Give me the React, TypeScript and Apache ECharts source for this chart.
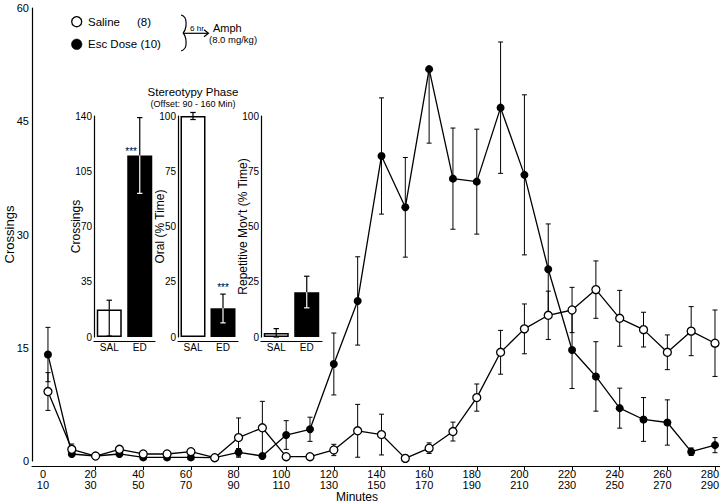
import React, { useEffect, useRef } from "react";
import * as echarts from "echarts";

// Main time course: one point per 10-min bin (index 0..28)
const binIndex = [0, 1, 2, 3, 4, 5, 6, 7, 8, 9, 10, 11, 12, 13, 14, 15, 16, 17, 18, 19, 20, 21, 22, 23, 24, 25, 26, 27, 28];
const xTickPositions = [0, 2, 4, 6, 8, 10, 12, 14, 16, 18, 20, 22, 24, 26, 28];
const xTickMarks = [2, 4, 6, 8, 10, 12, 14, 16, 18, 20, 22, 24, 26, 28];
const xTickLabels = ["0\n10", "20\n30", "40\n50", "60\n70", "80\n90", "100\n110", "120\n130", "140\n150", "160\n170", "180\n190", "200\n210", "220\n230", "240\n250", "260\n270", "280\n290"];
const yTicks = [0, 15, 30, 45, 60];

const salineMean = [9.2, 1.55, 0.66, 1.55, 0.93, 0.93, 1.23, 0.44, 3.1, 4.4, 0.57, 0.57, 1.46, 4.0, 3.5, 0.35, 1.7, 3.9, 8.4, 14.4, 17.5, 19.3, 20.0, 22.7, 18.9, 17.4, 14.4, 17.2, 15.6];
const salineSem = [2.5, 0.7, 0.2, 0.3, 0.2, 0.2, 0.3, 0.1, 2.6, 3.5, 0.1, 0.1, 0.75, 3.5, 2.7, 0.1, 0.7, 1.25, 1.8, 2.9, 3.3, 3.2, 3.0, 3.8, 3.7, 2.3, 2.3, 3.25, 4.4];

const escMean = [14.1, 0.93, 0.66, 0.93, 0.48, 0.48, 0.48, 0.44, 1.15, 0.66, 3.44, 4.2, 12.85, 21.2, 40.4, 33.6, 51.9, 37.4, 37.0, 46.8, 37.9, 25.4, 14.7, 11.2, 7.0, 5.5, 5.1, 1.23, 2.1];
const escSemLower = [3.6, 0.3, 0.2, 0.3, 0.1, 0.1, 0.1, 0.1, 0.5, 0.1, 1.9, 1.6, 4.1, 5.85, 7.7, 6.6, 9.8, 6.7, 6.95, 8.7, 10.6, 6.0, 5.1, 4.6, 2.65, 2.9, 3.0, 0.5, 1.0];
const escSemUpper = [3.6, 0.3, 0.2, 0.3, 0.1, 0.1, 0.1, 0.1, 0.5, 0.1, 1.9, 1.6, 4.1, 5.85, 7.7, 6.6, 0, 6.7, 6.95, 8.7, 10.6, 6.0, 5.1, 4.6, 2.65, 2.9, 3.0, 0.5, 1.0];

// Insets (Stereotypy phase)
const insetGroups = ["SAL", "ED"];
const crossMean = [17.5, 115];
const crossLow = [0.6, 91];
const crossHigh = [23.3, 139];
const oralMean = [100, 13];
const oralLow = [98.4, 6.4];
const oralHigh = [101.6, 19.4];
const repMean = [1.8, 20.3];
const repLow = [0, 13.2];
const repHigh = [3.8, 27.5];

const FONT = "Liberation Sans, Arial, Helvetica, sans-serif";

function mainErr(params: any, api: any) {
  const x = api.value(0);
  const pLo = api.coord([x, api.value(1)]);
  const pHi = api.coord([x, api.value(2)]);
  const cap = 2.5;
  const style = { stroke: "#000", lineWidth: 1 };
  return {
    type: "group",
    children: [
      { type: "line", shape: { x1: pLo[0], y1: pLo[1], x2: pHi[0], y2: pHi[1] }, style },
      { type: "line", shape: { x1: pHi[0] - cap, y1: pHi[1], x2: pHi[0] + cap, y2: pHi[1] }, style },
      { type: "line", shape: { x1: pLo[0] - cap, y1: pLo[1], x2: pLo[0] + cap, y2: pLo[1] }, style },
    ],
  };
}

function insetErr(params: any, api: any) {
  const c = api.value(0);
  const pM = api.coord([c, api.value(1)]);
  const pLo = api.coord([c, api.value(2)]);
  const pHi = api.coord([c, api.value(3)]);
  const filled = api.value(4) === 1;
  const cap = 2.7;
  const black = { stroke: "#000", lineWidth: 1.2 };
  const lowStyle = filled ? { stroke: "#fff", lineWidth: 1.2 } : black;
  return {
    type: "group",
    children: [
      { type: "line", shape: { x1: pHi[0], y1: pHi[1], x2: pM[0], y2: pM[1] }, style: black },
      { type: "line", shape: { x1: pM[0], y1: pM[1], x2: pLo[0], y2: pLo[1] }, style: lowStyle },
      { type: "line", shape: { x1: pHi[0] - cap, y1: pHi[1], x2: pHi[0] + cap, y2: pHi[1] }, style: black },
      { type: "line", shape: { x1: pLo[0] - cap, y1: pLo[1], x2: pLo[0] + cap, y2: pLo[1] }, style: lowStyle },
    ],
  };
}

function insetBars(mean: number[], starIdx: number, starLabel: any) {
  return mean.map((v, i) => ({
    value: v,
    itemStyle: i === 0 ? { color: "#fff", borderColor: "#000", borderWidth: 1.5 } : { color: "#000" },
    label: i === starIdx ? starLabel : { show: false },
  }));
}

export default function App() {
  const ref = useRef<HTMLDivElement>(null);
  useEffect(() => {
    if (!ref.current) return;
    const chart = echarts.init(ref.current, null, { renderer: "svg" });
    const axisLine = { show: true, onZero: false, lineStyle: { color: "#000", width: 1.2 } };
    const insetY = (gridIndex: number, max: number, interval: number, name: string) => ({
      type: "value",
      gridIndex,
      min: 0,
      max,
      interval,
      axisLine,
      axisTick: { show: false },
      splitLine: { show: false },
      axisLabel: { color: "#000", fontSize: 10, fontFamily: FONT, margin: 2 },
      name,
      nameLocation: "middle",
      nameRotate: 90,
      nameGap: 12,
      nameMoveOverlap: false,
      nameTextStyle: { color: "#000", fontSize: 12, fontFamily: FONT },
    });
    const insetX = (gridIndex: number) => ({
      type: "category",
      gridIndex,
      data: insetGroups,
      offset: 4,
      axisLine,
      axisTick: { show: false },
      axisLabel: { color: "#000", fontSize: 10, fontFamily: FONT, margin: 1 },
    });
    const starStyle = { color: "#000", fontSize: 10, fontFamily: FONT };
    const gridBase = { outerBoundsMode: "none", containLabel: false };

    const option: any = {
      animation: false,
      backgroundColor: "#fff",
      grid: [
        { ...gridBase, left: 32, top: 8, width: 688, height: 453 },
        { ...gridBase, left: 94, top: 116, width: 61, height: 221 },
        { ...gridBase, left: 178, top: 116, width: 60, height: 221 },
        { ...gridBase, left: 261, top: 116, width: 61, height: 221 },
      ],
      xAxis: [
        {
          type: "value",
          gridIndex: 0,
          min: -0.67,
          max: 28.21,
          offset: 5,
          axisLine,
          splitLine: { show: false },
          axisTick: { show: true, customValues: xTickMarks, length: 4, lineStyle: { color: "#000", width: 1 } },
          axisLabel: {
            customValues: xTickPositions,
            formatter: (v: number) => xTickLabels[xTickPositions.indexOf(Math.round(v))] ?? "",
            color: "#000",
            fontSize: 11,
            lineHeight: 11,
            fontFamily: FONT,
            margin: 2,
            padding: [0, 10, 0, 0],
          },
          name: "Minutes",
          nameLocation: "middle",
          nameGap: 24.5,
          nameMoveOverlap: false,
          nameTextStyle: { color: "#000", fontSize: 12, lineHeight: 12, fontFamily: FONT, padding: [0, 38, 0, 0] },
        },
        insetX(1),
        insetX(2),
        insetX(3),
      ],
      yAxis: [
        {
          type: "value",
          gridIndex: 0,
          min: yTicks[0],
          max: yTicks[yTicks.length - 1],
          interval: 15,
          axisLine,
          axisTick: { show: false },
          splitLine: { show: false },
          axisLabel: { color: "#000", fontSize: 11, fontFamily: FONT, margin: 3 },
          name: "Crossings",
          nameLocation: "middle",
          nameRotate: 90,
          nameGap: 16,
          nameMoveOverlap: false,
          nameTextStyle: { color: "#000", fontSize: 13, fontFamily: FONT },
        },
        insetY(1, 140, 35, "Crossings"),
        insetY(2, 100, 25, "Oral (% Time)"),
        insetY(3, 100, 25, "Repetitive Mov't (% Time)"),
      ],
      series: [
        {
          type: "custom",
          xAxisIndex: 0,
          yAxisIndex: 0,
          renderItem: mainErr,
          encode: { x: 0, y: [1, 2] },
          data: binIndex.map((k, i) => [k, escMean[i] - escSemLower[i], escMean[i] + escSemUpper[i]]),
          z: 1,
          silent: true,
        },
        {
          type: "custom",
          xAxisIndex: 0,
          yAxisIndex: 0,
          renderItem: mainErr,
          encode: { x: 0, y: [1, 2] },
          data: binIndex.map((k, i) => [k, salineMean[i] - salineSem[i], salineMean[i] + salineSem[i]]),
          z: 1,
          silent: true,
        },
        {
          type: "line",
          xAxisIndex: 0,
          yAxisIndex: 0,
          data: binIndex.map((k, i) => [k, escMean[i]]),
          symbol: "circle",
          symbolSize: 8,
          itemStyle: { color: "#000", borderColor: "#000", borderWidth: 0 },
          lineStyle: { color: "#000", width: 1.3 },
          z: 3,
        },
        {
          type: "line",
          xAxisIndex: 0,
          yAxisIndex: 0,
          data: binIndex.map((k, i) => [k, salineMean[i]]),
          symbol: "circle",
          symbolSize: 8,
          showAllSymbol: true,
          itemStyle: { color: "#fff", borderColor: "#000", borderWidth: 1.3 },
          lineStyle: { color: "#000", width: 1.3 },
          z: 4,
        },
        // Inset 1: Crossings
        {
          type: "bar",
          xAxisIndex: 1,
          yAxisIndex: 1,
          barWidth: 25,
          data: insetBars(crossMean, 1, { show: true, formatter: "***", position: [-2, -9], ...starStyle }),
          z: 5,
        },
        {
          type: "custom",
          xAxisIndex: 1,
          yAxisIndex: 1,
          renderItem: insetErr,
          data: insetGroups.map((g, i) => [i, crossMean[i], crossLow[i], crossHigh[i], i]),
          z: 6,
          silent: true,
        },
        // Inset 2: Oral
        {
          type: "bar",
          xAxisIndex: 2,
          yAxisIndex: 2,
          barWidth: 25,
          data: insetBars(oralMean, 1, { show: true, formatter: "***", position: "top", distance: 16, ...starStyle }),
          z: 5,
        },
        {
          type: "custom",
          xAxisIndex: 2,
          yAxisIndex: 2,
          renderItem: insetErr,
          data: insetGroups.map((g, i) => [i, oralMean[i], oralLow[i], oralHigh[i], i]),
          z: 6,
          silent: true,
        },
        // Inset 3: Repetitive movement
        {
          type: "bar",
          xAxisIndex: 3,
          yAxisIndex: 3,
          barWidth: 25,
          data: insetBars(repMean, -1, null),
          z: 5,
        },
        {
          type: "custom",
          xAxisIndex: 3,
          yAxisIndex: 3,
          renderItem: insetErr,
          data: insetGroups.map((g, i) => [i, repMean[i], repLow[i], repHigh[i], i]),
          z: 6,
          silent: true,
        },
      ],
      graphic: [
        // Legend
        { type: "circle", shape: { cx: 76.7, cy: 21.7, r: 5 }, style: { fill: "#fff", stroke: "#000", lineWidth: 1.3 } },
        { type: "circle", shape: { cx: 76.7, cy: 44.3, r: 5.3 }, style: { fill: "#000", stroke: "#000", lineWidth: 0.5 } },
        { type: "text", x: 88, y: 21.7, style: { text: "Saline", fontSize: 11.5, fontFamily: FONT, fill: "#000", verticalAlign: "middle" } },
        { type: "text", x: 137, y: 21.7, style: { text: "(8)", fontSize: 11.5, fontFamily: FONT, fill: "#000", verticalAlign: "middle" } },
        { type: "text", x: 88, y: 44.3, style: { text: "Esc Dose (10)", fontSize: 11.5, fontFamily: FONT, fill: "#000", verticalAlign: "middle" } },
        // Brace + arrow annotation
        { type: "bezierCurve", shape: { x1: 181, y1: 15, cpx1: 189, cpy1: 17, cpx2: 186, cpy2: 30, x2: 183, y2: 33 }, style: { stroke: "#000", lineWidth: 1.2, fill: "none" } },
        { type: "bezierCurve", shape: { x1: 183, y1: 33, cpx1: 186, cpy1: 36, cpx2: 189, cpy2: 49, x2: 181, y2: 51 }, style: { stroke: "#000", lineWidth: 1.2, fill: "none" } },
        { type: "line", shape: { x1: 184, y1: 33.3, x2: 208, y2: 33.3 }, style: { stroke: "#000", lineWidth: 1.2 } },
        { type: "polyline", shape: { points: [[204, 29.8], [208.5, 33.3], [204, 36.8]] }, style: { stroke: "#000", lineWidth: 1.2, fill: "none" } },
        { type: "text", x: 197, y: 32, style: { text: "6 hr", fontSize: 8, fontFamily: FONT, fill: "#000", align: "center", verticalAlign: "bottom" } },
        { type: "text", x: 213, y: 28, style: { text: "Amph", fontSize: 11, fontFamily: FONT, fill: "#000", verticalAlign: "middle" } },
        { type: "text", x: 209, y: 39.5, style: { text: "(8.0 mg/kg)", fontSize: 9.5, fontFamily: FONT, fill: "#000", verticalAlign: "middle" } },
        // Inset titles
        { type: "text", x: 193, y: 92, style: { text: "Stereotypy Phase", fontSize: 11.5, fontFamily: FONT, fill: "#000", align: "center", verticalAlign: "middle" } },
        { type: "text", x: 193, y: 103.5, style: { text: "(Offset: 90 - 160 Min)", fontSize: 9, fontFamily: FONT, fill: "#000", align: "center", verticalAlign: "middle" } },
      ],
    };
    chart.setOption(option);
    return () => chart.dispose();
  }, []);
  return <div ref={ref} style={{ position: "fixed", left: 0, top: 0, width: 720, height: 502, background: "#fff" }} />;
}
